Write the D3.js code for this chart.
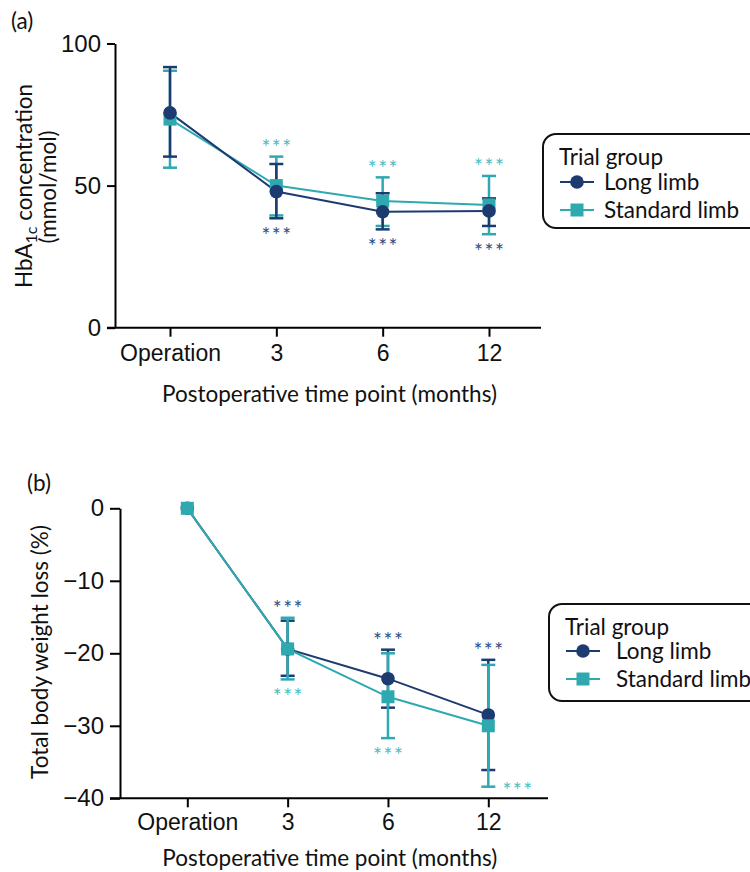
<!DOCTYPE html>
<html>
<head>
<meta charset="utf-8">
<script src="https://cdn.jsdelivr.net/npm/d3@7"></script>
<style>
  body { margin: 0; background: #fff; }
  svg { font-family: Lato, "Noto Sans", sans-serif; }
</style>
</head>
<body>
<div id="container-chart"></div>
<script>
// time points on the x axis
const timePoints = ["Operation", "3", "6", "12"];

// (a) HbA1c, mmol/mol
const hbaLongMean  = [75.6, 47.9, 40.8, 41.1];
const hbaLongUpper = [91.7, 57.6, 47.3, 45.5];
const hbaLongLower = [60.2, 38.5, 34.6, 35.8];
const hbaStdMean   = [73.4, 50.0, 44.6, 43.2];
const hbaStdUpper  = [90.4, 60.2, 52.9, 53.4];
const hbaStdLower  = [56.3, 39.5, 35.8, 32.9];
const hbaTicks = [0, 50, 100];

// (b) total body weight loss, %
const twlLongMean  = [0, -19.4, -23.5, -28.5];
const twlLongUpper = [null, -15.5, -19.5, -20.9];
const twlLongLower = [null, -23.1, -27.5, -36.1];
const twlStdMean   = [0, -19.4, -26.0, -30.0];
const twlStdUpper  = [null, -15.1, -20.0, -21.6];
const twlStdLower  = [null, -23.6, -31.7, -38.4];
const twlTicks = [0, -10, -20, -30, -40];

// significance markers (*** vs operation)
const sigStars = [false, true, true, true];

const navy = "#1c3b70", teal = "#2fa9b0";
const navyStar = "#2f4f86", tealStar = "#4cbdc3";
const fsTick = 23, fsTitle = 22.5, fsLegend = 22.5;

const svg = d3.select("#container-chart").append("svg")
  .attr("width", 750).attr("height", 872);

function drawPanel(p)
{
  const g = svg.append("g");
  const x = d3.scalePoint().domain(timePoints).range(p.xRange);
  const y = d3.scaleLinear().domain(p.yDomain).range(p.yRange);

  // y axis
  const yAx = g.append("g")
    .attr("transform", "translate(" + p.yAxisX + ",0)")
    .call(d3.axisLeft(y).tickValues(p.ticks).tickSize(p.tick).tickSizeOuter(0)
      .tickFormat(d => d < 0 ? "\u2212" + Math.abs(d) : d));
  yAx.select(".domain").attr("stroke-width", 2);
  yAx.selectAll(".tick line").attr("stroke-width", 2);
  yAx.selectAll(".tick text").attr("font-size", fsTick + 1).attr("fill", "#111").attr("x", -p.tick - 6);

  // x axis
  const xAx = g.append("g")
    .attr("transform", "translate(0," + y(p.yDomain[0]) + ")")
    .call(d3.axisBottom(x).tickSize(9).tickSizeOuter(0));
  xAx.select(".domain").attr("d", "M" + p.xLine[0] + ",0H" + p.xLine[1]).attr("stroke-width", 2);
  xAx.selectAll(".tick line").attr("stroke-width", 2);
  xAx.selectAll(".tick text").attr("font-size", fsTick).attr("fill", "#111").attr("y", p.xLabelDy);

  g.append("text").attr("x", (p.xRange[0] + p.xRange[1]) / 2 + p.titleShift).attr("y", p.xTitleY)
    .attr("text-anchor", "middle").attr("font-size", fsTitle).attr("fill", "#111")
    .text("Postoperative time point (months)");

  g.append("text").attr("x", p.tagX).attr("y", p.tagY)
    .attr("font-size", fsTitle).attr("fill", "#111").text(p.tag);

  // series
  const series = {
    long: {mean: p.longMean, up: p.longUp, lo: p.longLo, color: navy, shape: "circle"},
    std:  {mean: p.stdMean, up: p.stdUp, lo: p.stdLo, color: teal, shape: "square"}
  };
  const line = d3.line().x((d, i) => x(timePoints[i])).y(d => y(d));

  p.order.forEach(key => {
    const s = series[key];
    g.append("path").datum(s.mean)
      .attr("fill", "none").attr("stroke", s.color).attr("stroke-width", 2).attr("d", line);
  });

  p.order.forEach(key => {
    const s = series[key];
    timePoints.forEach((t, i) => {
      if (s.up[i] == null) return;
      const cx = x(t);
      g.append("line").attr("x1", cx).attr("x2", cx).attr("y1", y(s.up[i])).attr("y2", y(s.lo[i]))
        .attr("stroke", s.color).attr("stroke-width", 2.5);
      [s.up[i], s.lo[i]].forEach(v => {
        g.append("line").attr("x1", cx - 7).attr("x2", cx + 7).attr("y1", y(v)).attr("y2", y(v))
          .attr("stroke", s.color).attr("stroke-width", 2.5);
      });
    });
  });

  p.order.forEach(key => {
    const s = series[key];
    timePoints.forEach((t, i) => {
      const cx = x(t), cy = y(s.mean[i]);
      if (s.shape == "circle")
        g.append("circle").attr("cx", cx).attr("cy", cy).attr("r", 6.8).attr("fill", s.color);
      else
        g.append("rect").attr("x", cx - 6.5).attr("y", cy - 6.5).attr("width", 13).attr("height", 13).attr("fill", s.color);
    });
  });

  // asterisks, placed outside the outermost cap of both groups
  p.stars.forEach(st => {
    timePoints.forEach((t, i) => {
      if (!sigStars[i]) return;
      const v = st.side == "up"
        ? Math.max(series.long.up[i], series.std.up[i])
        : Math.min(series.long.lo[i], series.std.lo[i]);
      let sx = x(t), sy = y(v) + (st.side == "up" ? -13 : 13);
      if (st.rightAt && st.rightAt.includes(i)) { sx = x(t) + 29; sy = y(v); }
      g.append("text").attr("x", sx + 0.75).attr("y", sy + 11.5)
        .attr("text-anchor", "middle").attr("font-size", 21).attr("letter-spacing", 1.5)
        .attr("fill", st.key == "long" ? navyStar : tealStar).text("***");
    });
  });

  // legend
  const lg = g.append("g");
  lg.append("rect").attr("x", p.legend.x).attr("y", p.legend.y)
    .attr("width", 230).attr("height", p.legend.h).attr("rx", 13)
    .attr("fill", "#fff").attr("stroke", "#111").attr("stroke-width", 2);
  lg.append("text").attr("x", p.legend.x + 16).attr("y", p.legend.y + 31)
    .attr("font-size", fsLegend).attr("fill", "#111").text("Trial group");
  [["long", "Long limb"], ["std", "Standard limb"]].forEach((e, k) => {
    const s = series[e[0]];
    const ly = p.legend.y + p.legend.row0 + k * p.legend.step;
    const lx = p.legend.x + 17;
    lg.append("line").attr("x1", lx).attr("x2", lx + 34).attr("y1", ly).attr("y2", ly)
      .attr("stroke", s.color).attr("stroke-width", 2);
    if (s.shape == "circle")
      lg.append("circle").attr("cx", lx + 17).attr("cy", ly).attr("r", 6.8).attr("fill", s.color);
    else
      lg.append("rect").attr("x", lx + 10.5).attr("y", ly - 6.5).attr("width", 13).attr("height", 13).attr("fill", s.color);
    lg.append("text").attr("x", lx + p.legend.textDx).attr("y", ly + 8)
      .attr("font-size", fsLegend).attr("fill", "#111").text(e[1]);
  });

  return {g, x, y};
}

// panel (a)
const pa = drawPanel({
  tag: "(a)", tagX: 11, tagY: 29,
  xRange: [170, 489], xLine: [107, 541], yAxisX: 115, tick: 8,
  yDomain: [0, 100], yRange: [327.7, 43.5], ticks: hbaTicks,
  xLabelDy: 17, xTitleY: 402, titleShift: 0,
  longMean: hbaLongMean, longUp: hbaLongUpper, longLo: hbaLongLower,
  stdMean: hbaStdMean, stdUp: hbaStdUpper, stdLo: hbaStdLower,
  order: ["std", "long"],
  stars: [{key: "std", side: "up"}, {key: "long", side: "down"}],
  legend: {x: 543, y: 134, h: 94, row0: 48, step: 28, textDx: 44}
});
pa.g.append("text")
  .attr("transform", "translate(32,186) rotate(-90)")
  .attr("text-anchor", "middle").attr("font-size", fsTitle).attr("fill", "#111")
  .call(t => {
    t.append("tspan").text("HbA");
    t.append("tspan").attr("font-size", 16).attr("dy", 5).text("1c");
    t.append("tspan").attr("dy", -5).text(" concentration");
  });
pa.g.append("text")
  .attr("transform", "translate(56,187) rotate(-90)")
  .attr("text-anchor", "middle").attr("font-size", fsTitle).attr("fill", "#111")
  .text("(mmol/mol)");

// panel (b)
const pb = drawPanel({
  tag: "(b)", tagX: 27, tagY: 491,
  xRange: [187.3, 488.3], xLine: [110, 548], yAxisX: 120, tick: 10,
  yDomain: [-40, 0], yRange: [798.3, 508.3], ticks: twlTicks,
  xLabelDy: 15, xTitleY: 866, titleShift: -8,
  longMean: twlLongMean, longUp: twlLongUpper, longLo: twlLongLower,
  stdMean: twlStdMean, stdUp: twlStdUpper, stdLo: twlStdLower,
  order: ["long", "std"],
  stars: [{key: "long", side: "up"}, {key: "std", side: "down", rightAt: [3]}],
  legend: {x: 549, y: 604, h: 97, row0: 47, step: 28, textDx: 50}
});
pb.g.append("text")
  .attr("transform", "translate(48,652) rotate(-90)")
  .attr("text-anchor", "middle").attr("font-size", fsTitle).attr("fill", "#111")
  .text("Total body weight loss (%)");
</script>
</body>
</html>
